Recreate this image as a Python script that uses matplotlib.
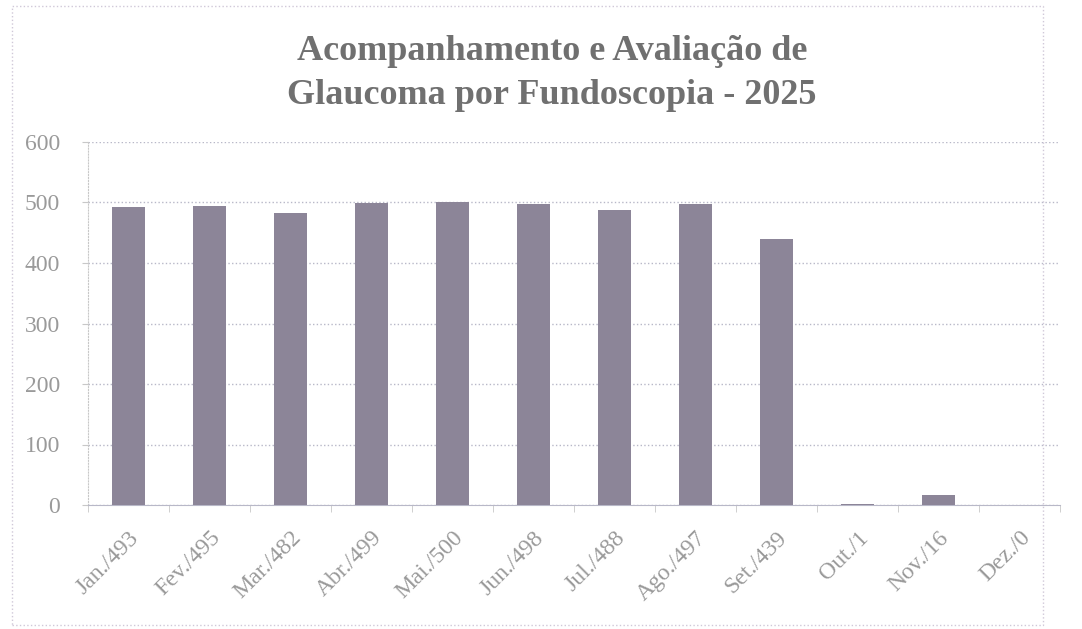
import matplotlib
matplotlib.use("Agg")
import matplotlib.pyplot as plt
from matplotlib.patches import Rectangle
import numpy as np

months = ["Jan.", "Fev.", "Mar.", "Abr.", "Mai.", "Jun.", "Jul.", "Ago.", "Set.", "Out.", "Nov.", "Dez."]
values = [493, 495, 482, 499, 500, 498, 488, 497, 439, 1, 16, 0]
labels = [f"{m}/{v}" for m, v in zip(months, values)]
yticks = [0, 100, 200, 300, 400, 500, 600]

W, H = 1082, 629
fig = plt.figure(figsize=(W / 100, H / 100), dpi=100)
fig.patch.set_facecolor("white")

ax = fig.add_axes([88 / W, 1 - 505 / H, (1060 - 88) / W, (505 - 142) / H])
x = np.arange(len(values))
ax.bar(x, values, width=0.4, color="#8c8598", edgecolor="none", zorder=3)

ax.set_xlim(-0.5, len(values) - 0.5)
ax.set_ylim(0, 600)
ax.set_yticks(yticks)
ax.set_yticklabels([str(t) for t in yticks], family="Liberation Serif", fontsize=17, color="#9a9a9a")
ax.set_xticks(x)
ax.set_xticklabels(labels, rotation=45, ha="right", rotation_mode="anchor",
                   family="Liberation Serif", fontsize=17, color="#9a9a9a")
ax.tick_params(axis="x", length=0, pad=16)
ax.tick_params(axis="y", length=4, color="#c8c8c8", pad=16)
ax.set_xticks(np.arange(-0.5, len(values), 1), minor=True)
ax.tick_params(axis="x", which="minor", length=5, color="#c8c8c8")

ax.grid(axis="y", linestyle=":", color="#b8b8c8", linewidth=1.0, zorder=0)
for s in ["top", "right"]:
    ax.spines[s].set_visible(False)
ax.spines["left"].set_color("#c8c8c8")
ax.spines["left"].set_linestyle(":")
ax.spines["bottom"].set_color("#b8b8c8")

fig.text(552 / W, 1 - 52 / H, "Acompanhamento e Avaliação de", ha="center", va="center",
         family="Liberation Serif", fontweight="bold", fontsize=26, color="#707070")
fig.text(552 / W, 1 - 95 / H, "Glaucoma por Fundoscopia - 2025", ha="center", va="center",
         family="Liberation Serif", fontweight="bold", fontsize=26, color="#707070")

fig.patches.append(Rectangle((12 / W, 1 - 625 / H), (1043 - 12) / W, (625 - 6) / H,
                             transform=fig.transFigure, fill=False,
                             edgecolor="#d0c8d8", linewidth=1.0, linestyle=":"))

fig.savefig("out.png", dpi=100)
